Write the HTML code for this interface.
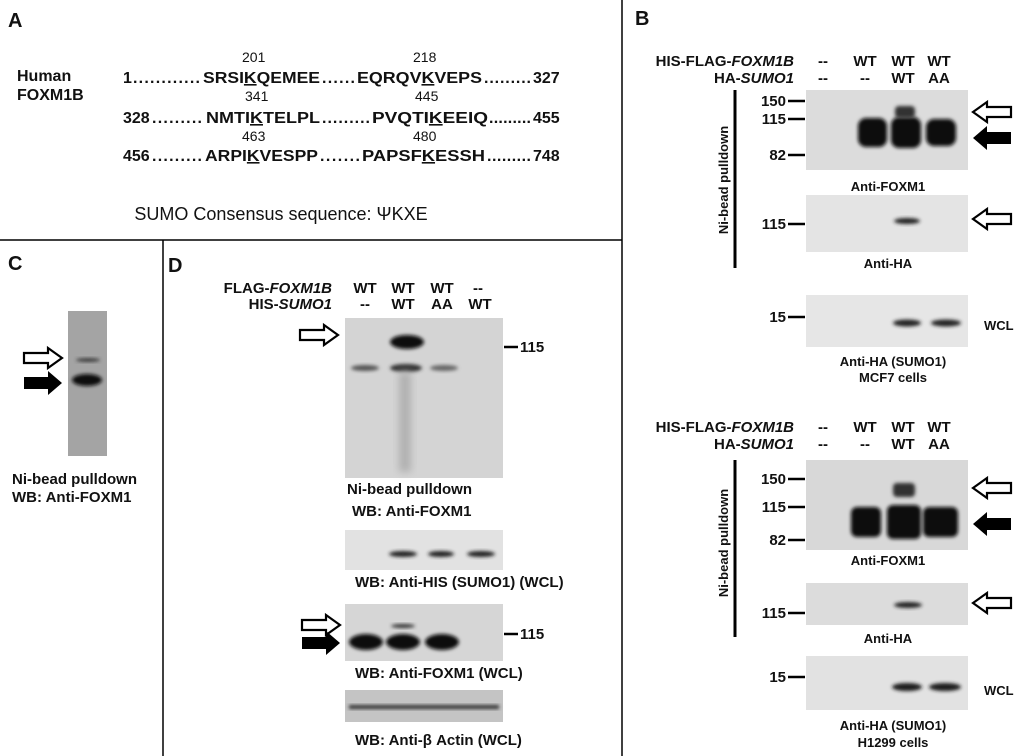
<!DOCTYPE html>
<html><head><meta charset="utf-8"><style>
body{margin:0;background:#fff}
svg{display:block}
text{font-family:"Liberation Sans",Arial,sans-serif;font-weight:bold;font-size:14px;fill:#111}
.s{font-size:16px}
.m{font-size:13px}
</style></head><body>
<svg width="1024" height="756" viewBox="0 0 1024 756">
<defs>
<filter id="b2" x="-50%" y="-50%" width="200%" height="200%"><feGaussianBlur stdDeviation="1.8"/></filter>
<filter id="b4" x="-50%" y="-50%" width="200%" height="200%"><feGaussianBlur stdDeviation="4"/></filter>
<g id="ha"><path d="M0,0 L14,-10 L14,-5 L38,-5 L38,5 L14,5 L14,10 Z" fill="#fff" stroke="#000" stroke-width="2.2"/></g>
<g id="fa"><path d="M0,0 L14,-12 L14,-6 L38,-6 L38,6 L14,6 L14,12 Z" fill="#000"/></g>
</defs>
<line x1="0" y1="240" x2="622" y2="240" stroke="#000" stroke-width="1.5"/>
<line x1="622" y1="0" x2="622" y2="756" stroke="#000" stroke-width="1.5"/>
<line x1="163" y1="240" x2="163" y2="756" stroke="#000" stroke-width="1.5"/>

<!-- Panel A -->
<g>
<text x="8" y="27" style="font-size:20px">A</text>
<text x="17" y="81" class="s">Human</text>
<text x="17" y="100" class="s">FOXM1B</text>
<g style="font-size:13px;font-weight:normal">
<text x="242" y="62" style="font-weight:normal">201</text>
<text x="413" y="62" style="font-weight:normal">218</text>
<text x="245" y="101" style="font-weight:normal">341</text>
<text x="415" y="101" style="font-weight:normal">445</text>
<text x="242" y="141" style="font-weight:normal">463</text>
<text x="413" y="141" style="font-weight:normal">480</text>
</g>
<g class="s">
<text x="123" y="83" class="s">1</text>
<text x="133" y="83" class="s" textLength="67" lengthAdjust="spacing">............</text>
<text x="203" y="83" class="s" textLength="117" lengthAdjust="spacingAndGlyphs">SRSI<tspan text-decoration="underline">K</tspan>QEMEE</text>
<text x="322" y="83" class="s" textLength="33" lengthAdjust="spacing">......</text>
<text x="357" y="83" class="s" textLength="125" lengthAdjust="spacingAndGlyphs">EQRQV<tspan text-decoration="underline">K</tspan>VEPS</text>
<text x="484" y="83" class="s" textLength="47" lengthAdjust="spacing">.........</text>
<text x="533" y="83" class="s">327</text>

<text x="123" y="123" class="s">328</text>
<text x="152" y="123" class="s" textLength="50" lengthAdjust="spacing">.........</text>
<text x="206" y="123" class="s" textLength="114" lengthAdjust="spacingAndGlyphs">NMTI<tspan text-decoration="underline">K</tspan>TELPL</text>
<text x="322" y="123" class="s" textLength="48" lengthAdjust="spacing">.........</text>
<text x="372" y="123" class="s" textLength="116" lengthAdjust="spacingAndGlyphs">PVQTI<tspan text-decoration="underline">K</tspan>EEIQ</text>
<text x="489" y="123" class="s" textLength="42" lengthAdjust="spacing">.........</text>
<text x="533" y="123" class="s">455</text>

<text x="123" y="161" class="s">456</text>
<text x="152" y="161" class="s" textLength="50" lengthAdjust="spacing">.........</text>
<text x="205" y="161" class="s" textLength="113" lengthAdjust="spacingAndGlyphs">ARPI<tspan text-decoration="underline">K</tspan>VESPP</text>
<text x="320" y="161" class="s" textLength="40" lengthAdjust="spacing">.......</text>
<text x="362" y="161" class="s" textLength="123" lengthAdjust="spacingAndGlyphs">PAPSF<tspan text-decoration="underline">K</tspan>ESSH</text>
<text x="487" y="161" class="s" textLength="44" lengthAdjust="spacing">.........</text>
<text x="533" y="161" class="s">748</text>
</g>
<text x="281" y="220" text-anchor="middle" style="font-size:18px;font-weight:normal">SUMO Consensus sequence: ΨKXE</text>
</g>

<!-- Panel C -->
<g>
<text x="8" y="270" style="font-size:20px">C</text>
<rect x="68" y="311" width="39" height="145" fill="#a4a4a4"/>
<ellipse cx="88" cy="360" rx="12" ry="1.8" fill="#333" filter="url(#b2)"/>
<ellipse cx="87" cy="380" rx="15" ry="6" fill="#111" filter="url(#b2)"/>
<use href="#ha" transform="translate(62,358) scale(-1,1)"/>
<use href="#fa" transform="translate(62,383) scale(-1,1)"/>
<text x="12" y="484" style="font-size:15px">Ni-bead pulldown</text>
<text x="12" y="502" style="font-size:15px">WB: Anti-FOXM1</text>
</g>

<!-- Panel D -->
<g>
<text x="168" y="272" style="font-size:20px">D</text>
<text x="332" y="293" text-anchor="end" style="font-size:15px">FLAG-<tspan font-style="italic">FOXM1B</tspan></text>
<text x="332" y="309" text-anchor="end" style="font-size:15px">HIS-<tspan font-style="italic">SUMO1</tspan></text>
<text x="365" y="293" text-anchor="middle" style="font-size:15px">WT</text><text x="403" y="293" text-anchor="middle" style="font-size:15px">WT</text><text x="442" y="293" text-anchor="middle" style="font-size:15px">WT</text><text x="478" y="293" text-anchor="middle" style="font-size:15px">--</text>
<text x="365" y="309" text-anchor="middle" style="font-size:15px">--</text><text x="403" y="309" text-anchor="middle" style="font-size:15px">WT</text><text x="442" y="309" text-anchor="middle" style="font-size:15px">AA</text><text x="480" y="309" text-anchor="middle" style="font-size:15px">WT</text>
<rect x="345" y="318" width="158" height="160" fill="#d4d4d4"/>
<ellipse cx="365" cy="368" rx="14" ry="3" fill="#555" filter="url(#b2)"/>
<ellipse cx="407" cy="342" rx="17" ry="7" fill="#0a0a0a" filter="url(#b2)"/>
<ellipse cx="406" cy="368" rx="16" ry="4" fill="#333" filter="url(#b2)"/>
<rect x="399" y="372" width="12" height="100" fill="#b0b0b0" filter="url(#b4)"/>
<ellipse cx="444" cy="368" rx="14" ry="3" fill="#666" filter="url(#b2)"/>
<use href="#ha" transform="translate(338,335) scale(-1,1)"/>
<line x1="504" y1="347" x2="518" y2="347" stroke="#000" stroke-width="2.5"/><text x="520" y="352" style="font-size:15px">115</text>
<text x="347" y="494" style="font-size:15px">Ni-bead pulldown</text>
<text x="352" y="516" style="font-size:15px">WB: Anti-FOXM1</text>
<rect x="345" y="530" width="158" height="40" fill="#e2e2e2"/>
<ellipse cx="403" cy="554" rx="14" ry="3" fill="#222" filter="url(#b2)"/>
<ellipse cx="441" cy="554" rx="13" ry="3" fill="#222" filter="url(#b2)"/>
<ellipse cx="481" cy="554" rx="14" ry="3" fill="#222" filter="url(#b2)"/>
<text x="355" y="587" style="font-size:15px">WB: Anti-HIS (SUMO1) (WCL)</text>
<rect x="345" y="604" width="158" height="57" fill="#d6d6d6"/>
<ellipse cx="366" cy="642" rx="17" ry="8" fill="#0a0a0a" filter="url(#b2)"/>
<ellipse cx="403" cy="642" rx="17" ry="8" fill="#0a0a0a" filter="url(#b2)"/>
<ellipse cx="403" cy="626" rx="12" ry="2" fill="#333" filter="url(#b2)"/>
<ellipse cx="442" cy="642" rx="17" ry="8" fill="#0a0a0a" filter="url(#b2)"/>
<use href="#ha" transform="translate(340,625) scale(-1,1)"/>
<use href="#fa" transform="translate(340,643) scale(-1,1)"/>
<line x1="504" y1="634" x2="518" y2="634" stroke="#000" stroke-width="2.5"/><text x="520" y="639" style="font-size:15px">115</text>
<text x="355" y="678" style="font-size:15px">WB: Anti-FOXM1 (WCL)</text>
<rect x="345" y="690" width="158" height="32" fill="#c4c4c4"/>
<rect x="349" y="705" width="150" height="4" fill="#333" filter="url(#b2)"/>
<text x="355" y="745" style="font-size:15px">WB: Anti-β Actin (WCL)</text>
</g>

<!-- Panel B -->
<g>
<text x="635" y="25" style="font-size:20px">B</text>
<g>
<text x="794" y="66" text-anchor="end" style="font-size:15px">HIS-FLAG-<tspan font-style="italic">FOXM1B</tspan></text>
<text x="794" y="83" text-anchor="end" style="font-size:15px">HA-<tspan font-style="italic">SUMO1</tspan></text>
<text x="823" y="66" text-anchor="middle" style="font-size:15px">--</text><text x="865" y="66" text-anchor="middle" style="font-size:15px">WT</text><text x="903" y="66" text-anchor="middle" style="font-size:15px">WT</text><text x="939" y="66" text-anchor="middle" style="font-size:15px">WT</text>
<text x="823" y="83" text-anchor="middle" style="font-size:15px">--</text><text x="865" y="83" text-anchor="middle" style="font-size:15px">--</text><text x="903" y="83" text-anchor="middle" style="font-size:15px">WT</text><text x="939" y="83" text-anchor="middle" style="font-size:15px">AA</text>
<line x1="735" y1="90" x2="735" y2="268" stroke="#000" stroke-width="3"/>
<text transform="translate(728,180) rotate(-90)" text-anchor="middle" class="m">Ni-bead pulldown</text>
<rect x="806" y="90" width="162" height="80" fill="#dcdcdc"/>
<rect x="858" y="118" width="29" height="29" rx="8" fill="#0a0a0a" filter="url(#b2)"/>
<rect x="891" y="117" width="30" height="31" rx="8" fill="#0a0a0a" filter="url(#b2)"/>
<rect x="895" y="106" width="20" height="12" rx="4" fill="#333" filter="url(#b2)"/>
<rect x="926" y="119" width="30" height="27" rx="8" fill="#0a0a0a" filter="url(#b2)"/>
<text x="786" y="106" text-anchor="end" style="font-size:15px">150</text><line x1="788" y1="101" x2="805" y2="101" stroke="#000" stroke-width="2.5"/>
<text x="786" y="124" text-anchor="end" style="font-size:15px">115</text><line x1="788" y1="119" x2="805" y2="119" stroke="#000" stroke-width="2.5"/>
<text x="786" y="160" text-anchor="end" style="font-size:15px">82</text><line x1="788" y1="155" x2="805" y2="155" stroke="#000" stroke-width="2.5"/>
<use href="#ha" transform="translate(973,112)"/>
<use href="#fa" transform="translate(973,138)"/>
<text x="888" y="191" text-anchor="middle" class="m">Anti-FOXM1</text>
<rect x="806" y="195" width="162" height="57" fill="#e4e4e4"/>
<ellipse cx="907" cy="221" rx="13" ry="3" fill="#222" filter="url(#b2)"/>
<text x="786" y="229" text-anchor="end" style="font-size:15px">115</text><line x1="788" y1="224" x2="805" y2="224" stroke="#000" stroke-width="2.5"/>
<use href="#ha" transform="translate(973,219)"/>
<text x="888" y="268" text-anchor="middle" class="m">Anti-HA</text>
<rect x="806" y="295" width="162" height="52" fill="#e6e6e6"/>
<ellipse cx="907" cy="323" rx="14" ry="3.5" fill="#222" filter="url(#b2)"/>
<ellipse cx="946" cy="323" rx="15" ry="3.5" fill="#222" filter="url(#b2)"/>
<text x="786" y="322" text-anchor="end" style="font-size:15px">15</text><line x1="788" y1="317" x2="805" y2="317" stroke="#000" stroke-width="2.5"/>
<text x="984" y="330" class="m">WCL</text>
<text x="893" y="366" text-anchor="middle" class="m">Anti-HA (SUMO1)</text>
<text x="893" y="382" text-anchor="middle" class="m">MCF7 cells</text>
</g>
<g>
<text x="794" y="432" text-anchor="end" style="font-size:15px">HIS-FLAG-<tspan font-style="italic">FOXM1B</tspan></text>
<text x="794" y="449" text-anchor="end" style="font-size:15px">HA-<tspan font-style="italic">SUMO1</tspan></text>
<text x="823" y="432" text-anchor="middle" style="font-size:15px">--</text><text x="865" y="432" text-anchor="middle" style="font-size:15px">WT</text><text x="903" y="432" text-anchor="middle" style="font-size:15px">WT</text><text x="939" y="432" text-anchor="middle" style="font-size:15px">WT</text>
<text x="823" y="449" text-anchor="middle" style="font-size:15px">--</text><text x="865" y="449" text-anchor="middle" style="font-size:15px">--</text><text x="903" y="449" text-anchor="middle" style="font-size:15px">WT</text><text x="939" y="449" text-anchor="middle" style="font-size:15px">AA</text>
<line x1="735" y1="460" x2="735" y2="637" stroke="#000" stroke-width="3"/>
<text transform="translate(728,543) rotate(-90)" text-anchor="middle" class="m">Ni-bead pulldown</text>
<rect x="806" y="460" width="162" height="90" fill="#d8d8d8"/>
<rect x="851" y="507" width="30" height="30" rx="6" fill="#0a0a0a" filter="url(#b2)"/>
<rect x="887" y="505" width="34" height="34" rx="6" fill="#0a0a0a" filter="url(#b2)"/>
<rect x="893" y="483" width="22" height="14" rx="4" fill="#333" filter="url(#b2)"/>
<rect x="923" y="507" width="35" height="30" rx="6" fill="#0a0a0a" filter="url(#b2)"/>
<text x="786" y="484" text-anchor="end" style="font-size:15px">150</text><line x1="788" y1="479" x2="805" y2="479" stroke="#000" stroke-width="2.5"/>
<text x="786" y="512" text-anchor="end" style="font-size:15px">115</text><line x1="788" y1="507" x2="805" y2="507" stroke="#000" stroke-width="2.5"/>
<text x="786" y="545" text-anchor="end" style="font-size:15px">82</text><line x1="788" y1="540" x2="805" y2="540" stroke="#000" stroke-width="2.5"/>
<use href="#ha" transform="translate(973,488)"/>
<use href="#fa" transform="translate(973,524)"/>
<text x="888" y="565" text-anchor="middle" class="m">Anti-FOXM1</text>
<rect x="806" y="583" width="162" height="42" fill="#dcdcdc"/>
<ellipse cx="908" cy="605" rx="14" ry="3" fill="#222" filter="url(#b2)"/>
<text x="786" y="618" text-anchor="end" style="font-size:15px">115</text><line x1="788" y1="613" x2="805" y2="613" stroke="#000" stroke-width="2.5"/>
<use href="#ha" transform="translate(973,603)"/>
<text x="888" y="643" text-anchor="middle" class="m">Anti-HA</text>
<rect x="806" y="656" width="162" height="54" fill="#e2e2e2"/>
<ellipse cx="907" cy="687" rx="15" ry="4" fill="#1a1a1a" filter="url(#b2)"/>
<ellipse cx="945" cy="687" rx="16" ry="4" fill="#1a1a1a" filter="url(#b2)"/>
<text x="786" y="682" text-anchor="end" style="font-size:15px">15</text><line x1="788" y1="677" x2="805" y2="677" stroke="#000" stroke-width="2.5"/>
<text x="984" y="695" class="m">WCL</text>
<text x="893" y="730" text-anchor="middle" class="m">Anti-HA (SUMO1)</text>
<text x="893" y="747" text-anchor="middle" class="m">H1299 cells</text>
</g>
</g>
</svg>
</body></html>
